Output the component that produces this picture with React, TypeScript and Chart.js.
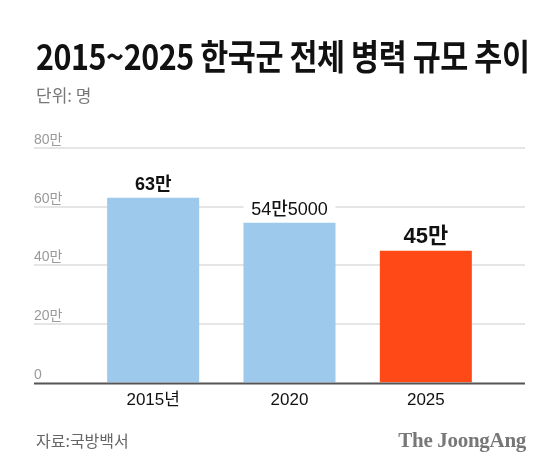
import React, { useEffect, useRef } from "react";
import { Chart, registerables, Plugin } from "chart.js";

Chart.register(...registerables);

// 단위: 만 명
const categories = ["2015년", "2020", "2025"];
const troops = [63, 54.5, 45];
const valueLabels = ["63만", "54만5000", "45만"];
const yTickValues = [0, 20, 40, 60, 80];
const yTickLabels = ["0", "20만", "40만", "60만", "80만"];

const BLUE = "#9DC9ED";
const RED = "#FF4A17";
const LATIN_KR = '"Liberation Sans", "Noto Sans CJK KR", sans-serif';
const GRID_LEFT = 34;
const GRID_RIGHT = 525;

// label fonts for 63만 / 54만5000 / 45만
const labelFonts = [
  `bold 18px ${LATIN_KR}`,
  `500 18px ${LATIN_KR}`,
  `bold 22px ${LATIN_KR}`,
];

const gridPlugin: Plugin<"bar"> = {
  id: "gridPlugin",
  beforeDatasetsDraw(chart) {
    const { ctx } = chart;
    const y = chart.scales.y;
    ctx.save();
    yTickValues.forEach((v, i) => {
      const py = Math.round(y.getPixelForValue(v));
      if (v !== 0) {
        ctx.strokeStyle = "#dcdcdc";
        ctx.lineWidth = 1.5;
        ctx.beginPath();
        ctx.moveTo(GRID_LEFT, py);
        ctx.lineTo(GRID_RIGHT, py);
        ctx.stroke();
      }
      ctx.fillStyle = "#999999";
      ctx.font = `14px ${LATIN_KR}`;
      ctx.textAlign = "left";
      ctx.textBaseline = "alphabetic";
      ctx.fillText(yTickLabels[i], GRID_LEFT, py - 4);
    });
    ctx.restore();
  },
  afterDatasetsDraw(chart) {
    const { ctx } = chart;
    const y = chart.scales.y;
    const meta = chart.getDatasetMeta(0);
    ctx.save();
    // baseline
    const by = y.getPixelForValue(0);
    ctx.strokeStyle = "#555555";
    ctx.lineWidth = 2;
    ctx.beginPath();
    ctx.moveTo(GRID_LEFT, by + 1);
    ctx.lineTo(GRID_RIGHT, by + 1);
    ctx.stroke();
    // value labels
    meta.data.forEach((bar, i) => {
      const { x, y: top, width } = bar.getProps(["x", "y", "width"], true) as any;
      ctx.font = labelFonts[i];
      ctx.fillStyle = "#ffffff";
      ctx.fillRect(x - width / 2, top - 30, width, 24);
      ctx.fillStyle = "#111111";
      ctx.textAlign = "center";
      ctx.textBaseline = "alphabetic";
      ctx.fillText(valueLabels[i], x, top - 8);
    });
    ctx.restore();
  },
};

const App: React.FC = () => {
  const chartRef = useRef<HTMLCanvasElement>(null);
  const chartInstance = useRef<Chart<"bar"> | null>(null);

  useEffect(() => {
    if (!chartRef.current) return;
    chartInstance.current?.destroy();
    chartInstance.current = new Chart(chartRef.current, {
      type: "bar",
      data: {
        labels: categories,
        datasets: [
          {
            data: troops,
            backgroundColor: categories.map((_, i) =>
              i === categories.length - 1 ? RED : BLUE
            ),
            borderWidth: 0,
            barPercentage: 0.675,
            categoryPercentage: 1,
          },
        ],
      },
      options: {
        responsive: true,
        maintainAspectRatio: false,
        animation: false,
        layout: { padding: { left: 85, right: 66, top: 148, bottom: 45 } },
        plugins: { legend: { display: false }, tooltip: { enabled: false } },
        scales: {
          x: {
            grid: { display: false, drawTicks: false },
            border: { display: false },
            ticks: {
              color: "#111111",
              padding: 8,
              font: { family: LATIN_KR, size: 17 },
            },
          },
          y: { display: false, min: 0, max: 80 },
        },
      },
      plugins: [gridPlugin],
    });
    return () => {
      chartInstance.current?.destroy();
      chartInstance.current = null;
    };
  }, []);

  return (
    <div
      style={{
        position: "absolute",
        top: 0,
        left: 0,
        width: 560,
        height: 464,
        background: "#fff",
        overflow: "hidden",
        fontFamily: LATIN_KR,
      }}
    >
      <div style={{ position: "absolute", inset: 0 }}>
        <canvas ref={chartRef}></canvas>
      </div>
      <div
        style={{
          position: "absolute",
          left: 36,
          top: 30,
          fontFamily: '"Noto Sans CJK KR", sans-serif',
          fontWeight: 700,
          fontSize: 35,
          lineHeight: "50px",
          letterSpacing: -0.5,
          color: "#111",
          whiteSpace: "nowrap",
          transform: "scaleX(0.87)",
          transformOrigin: "left center",
        }}
      >
        2015~2025 한국군 전체 병력 규모 추이
      </div>
      <div
        style={{
          position: "absolute",
          left: 36,
          top: 83,
          fontFamily: '"Noto Sans CJK KR", sans-serif',
          fontSize: 17,
          color: "#777",
          lineHeight: "24px",
        }}
      >
        단위: 명
      </div>
      <div
        style={{
          position: "absolute",
          left: 36,
          top: 428,
          fontFamily: '"Noto Sans CJK KR", sans-serif',
          fontSize: 16,
          color: "#666",
          lineHeight: "24px",
        }}
      >
        자료:국방백서
      </div>
      <div
        style={{
          position: "absolute",
          right: 34,
          top: 426,
          fontFamily: '"Liberation Serif", serif',
          fontWeight: 700,
          fontSize: 21,
          color: "#777",
          lineHeight: "28px",
          letterSpacing: -0.3,
        }}
      >
        The JoongAng
      </div>
    </div>
  );
};

export default App;
